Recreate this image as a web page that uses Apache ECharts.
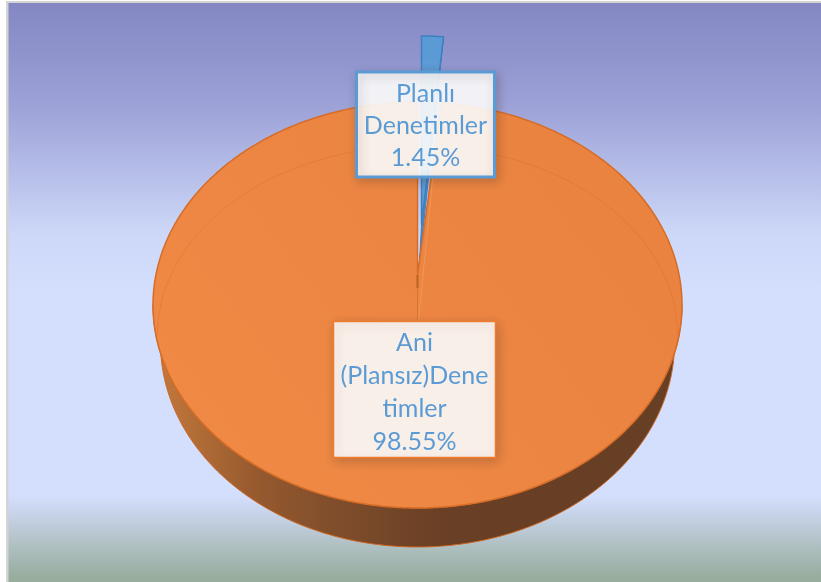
<!DOCTYPE html>
<html>
<head>
<meta charset="utf-8">
<style>
html, body { margin: 0; padding: 0; background: #fff; }
#chart { width: 821px; height: 582px; }
</style>
<script src="https://cdn.jsdelivr.net/npm/echarts@6/dist/echarts.min.js"></script>
</head>
<body>
<div id="chart"></div>
<script>
// slices start at 12 o'clock and go clockwise
var categories = ['Planlı\nDenetimler', 'Ani\n(Plansız)Dene\ntimler'];
var sliceValues = [1.45, 98.55];

var total = sliceValues[0] + sliceValues[1];
var seriesData = categories.map(function (name, i) {
    return { name: name, value: [i, sliceValues[i]] };
});

// 3d look of the disc
var cx = 417.5, cy = 305, rx = 264.5, ry = 203;
var depth = 38;

function rim(a, dx, dy, rxx, ryy) {
    return [cx + dx + (rxx || rx) * Math.sin(a), cy + dy - (ryy || ry) * Math.cos(a)];
}

function arc(from, to, dx, dy, rxx, ryy) {
    var pts = [];
    var n = Math.max(2, Math.ceil(Math.abs(to - from) / 0.01));
    for (var i = 0; i <= n; i++) {
        pts.push(rim(from + (to - from) * i / n, dx, dy, rxx, ryy));
    }
    return pts;
}

function labelBox(text, box, stroke, lineWidth, lineHeight, textDy) {
    return [{
        type: 'rect',
        z2: 100,
        shape: { x: box[0], y: box[1], width: box[2], height: box[3] },
        style: {
            fill: 'rgba(255,255,255,0.89)',
            stroke: stroke,
            lineWidth: lineWidth,
            shadowBlur: 10,
            shadowColor: 'rgba(60,40,30,0.25)',
            shadowOffsetX: 2,
            shadowOffsetY: 3
        }
    }, {
        type: 'text',
        z2: 101,
        style: {
            text: text,
            x: box[0] + box[2] / 2,
            y: box[1] + box[3] / 2 + textDy,
            align: 'center',
            verticalAlign: 'middle',
            font: '25px Lato',
            lineHeight: lineHeight,
            fill: '#5b9bd5'
        }
    }];
}

function renderSlice(params, api) {
    var i = api.value(0);
    var before = 0;
    for (var k = 0; k < i; k++) before += sliceValues[k];
    var a0 = before / total * Math.PI * 2;
    var a1 = (before + api.value(1)) / total * Math.PI * 2;
    var pct = api.value(1).toFixed(2) + '%';
    var children = [];

    if (i === 0) {
        // pulled out slice
        var dx = 4, dy = -66;
        var apex = [cx + dx, 225];
        var edge = arc(a0, a1, dx, dy, 242);
        children.push({
            type: 'polygon',
            shape: { points: [apex, edge[edge.length - 1], [apex[0] - 2, apex[1] + depth]] },
            style: { fill: '#4b8bc9', stroke: '#3f7fbf', lineWidth: 1 }
        });
        children.push({
            type: 'polygon',
            shape: { points: [apex].concat(edge) },
            style: { fill: '#5b9bd5', stroke: '#3f7fbf', lineWidth: 1.5 }
        });
        children = children.concat(labelBox(categories[i] + '\n' + pct, [356.5, 72, 138, 105], '#5b9bd5', 3, 32, 1));
    } else {
        var half = Math.PI / 2;
        // side wall, front half only
        var wallTop = arc(half, half * 3, 0, 0);
        var wallBottom = arc(half * 3, half, 0, depth, 257, 204);
        children.push({
            type: 'polygon',
            shape: { points: wallTop.concat(wallBottom) },
            style: {
                fill: {
                    type: 'linear', x: 0, y: 0, x2: 1, y2: 0,
                    colorStops: [
                        { offset: 0, color: '#c67a3c' },
                        { offset: 0.2, color: '#95592e' },
                        { offset: 0.35, color: '#7f4d2b' },
                        { offset: 0.55, color: '#693f25' },
                        { offset: 1, color: '#663f24' }
                    ]
                },
                stroke: '#cf661f',
                lineWidth: 1
            }
        });
        var topApex = [cx, 275];
        children.push({
            type: 'polygon',
            shape: { points: [topApex].concat(arc(a0, a1, 0, 0)) },
            style: {
                fill: {
                    type: 'linear', x: 0, y: 1, x2: 1, y2: 0,
                    colorStops: [
                        { offset: 0, color: '#f08a45' },
                        { offset: 1, color: '#e9813f' }
                    ]
                },
                stroke: '#d56c27',
                lineWidth: 1.5
            }
        });
        // inner bevel line on the far side
        children.push({
            type: 'polyline',
            shape: { points: arc(-half, half, 0, 30, 260, 189) },
            style: { fill: 'none', stroke: 'rgba(205,100,35,0.28)', lineWidth: 1 }
        });
        // crease under the gap
        children.push({
            type: 'polyline',
            shape: { points: [topApex, [cx, 288]] },
            style: { fill: 'none', stroke: '#b9621f', lineWidth: 2 }
        });
        children.push({
            type: 'polyline',
            shape: { points: [[cx, 288], [cx, 320]] },
            style: { fill: 'none', stroke: 'rgba(200,100,35,0.5)', lineWidth: 1 }
        });
        children.push({
            type: 'polyline',
            shape: { points: [[433, 175], [cx + 1, 320]] },
            style: { fill: 'none', stroke: 'rgba(245,160,105,0.6)', lineWidth: 1 }
        });
        children = children.concat(labelBox(categories[i] + '\n' + pct, [333.5, 321.5, 162, 136], '#ed7d31', 1.5, 33, 2.5));
    }
    return { type: 'group', children: children };
}

var option = {
    animation: false,
    backgroundColor: '#fff',
    graphic: [
        { type: 'rect', z: -10, silent: true, shape: { x: 6, y: 1, width: 815, height: 581 }, style: { fill: '#d4d4d4' } },
        {
            type: 'rect', z: -9, silent: true,
            shape: { x: 8.5, y: 3, width: 813, height: 579 },
            style: {
                fill: {
                    type: 'linear', x: 0, y: 0, x2: 0, y2: 1,
                    colorStops: [
                        { offset: 0, color: '#8487c3' },
                        { offset: 0.17, color: '#9ba0d6' },
                        { offset: 0.4, color: '#cdd8f8' },
                        { offset: 0.5, color: '#d4dffe' },
                        { offset: 0.85, color: '#d4dffe' },
                        { offset: 0.99, color: '#99ad9f' },
                        { offset: 1, color: '#99ad9f' }
                    ]
                }
            }
        }
    ],
    series: [{
        type: 'custom',
        coordinateSystem: 'none',
        renderItem: renderSlice,
        silent: true,
        data: seriesData
    }]
};

var myChart = echarts.init(document.getElementById('chart'), null, { renderer: 'canvas' });
myChart.setOption(option);
</script>
</body>
</html>
